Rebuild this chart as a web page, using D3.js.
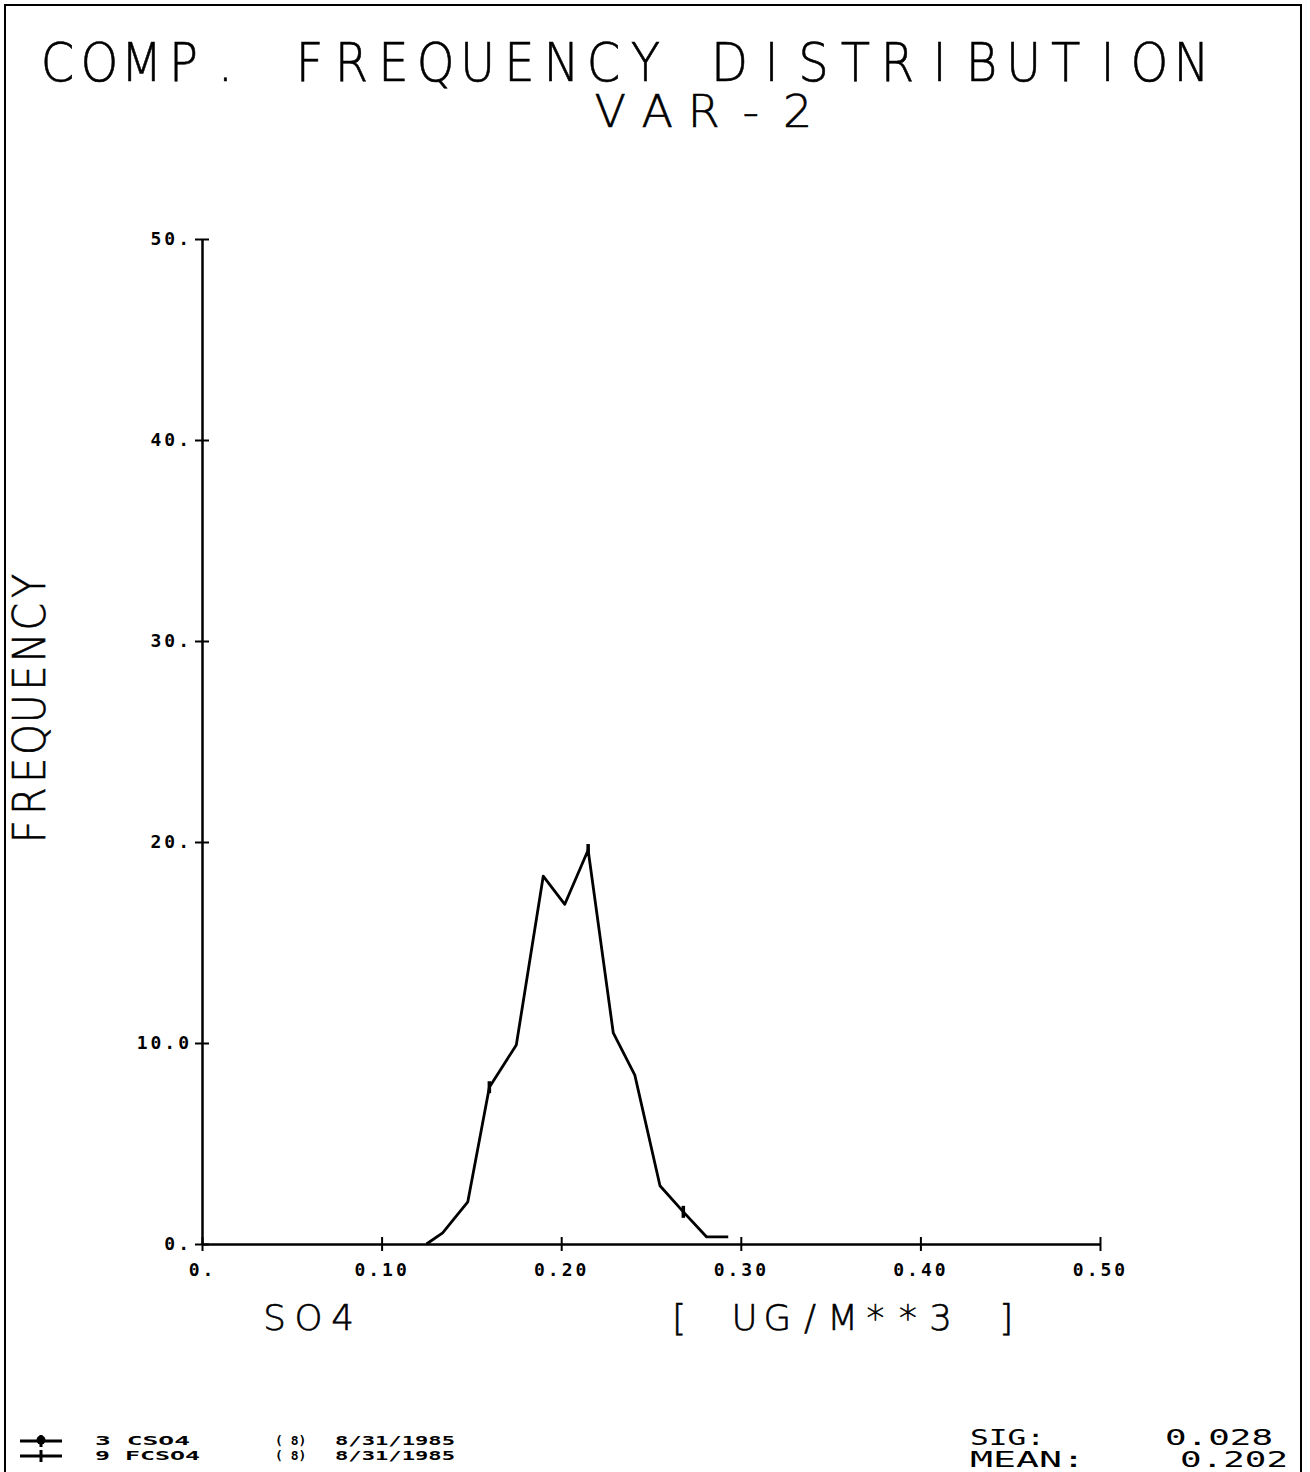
<!DOCTYPE html>
<html lang="en">
	<head>
		<meta charset="utf-8">
		<title>Comp. frequency distribution</title>
		<script type="text/javascript" src="https://d3js.org/d3.v7.min.js"></script>
		<style type="text/css">
			body { margin: 0; background: white; }
			text { font-family: "DejaVu Sans Mono", monospace; fill: black; }
			.thin { font-family: "DejaVu Sans", sans-serif; font-weight: 200; }
		</style>
	</head>
	<body>
		<script type="text/javascript">

			// SO4 concentration (bin centres) and frequency
			var conc = [0.125, 0.134, 0.148, 0.160, 0.175, 0.190, 0.202, 0.215, 0.229, 0.241, 0.255, 0.268, 0.281, 0.293];
			var freq = [0.0, 0.55, 2.1, 7.8, 9.9, 18.3, 16.9, 19.6, 10.5, 8.4, 2.9, 1.6, 0.35, 0.35];
			var markIdx = [3, 7, 11];

			var xTicks = [0, 0.1, 0.2, 0.3, 0.4, 0.5];
			var xTickLabels = ["0.", "0.10", "0.20", "0.30", "0.40", "0.50"];
			var yTicks = [0, 10, 20, 30, 40, 50];
			var yTickLabels = ["0.", "10.0", "20.", "30.", "40.", "50."];

			var legendNames = ["3 CSO4", "9 FCSO4"];
			var legendCounts = ["( 8)", "( 8)"];
			var legendDates = ["8/31/1985", "8/31/1985"];

			var w = 1310, h = 1472;

			var svg = d3.select("body")
						.append("svg")
						.attr("width", w)
						.attr("height", h);

			// page frame
			svg.append("path")
				.attr("d", "M5,1472 L5,5 L1301,5 L1301,1472")
				.attr("fill", "none")
				.attr("stroke", "black")
				.attr("stroke-width", 2);

			var x = d3.scaleLinear().domain([0, 0.5]).range([202, 1100]);
			var y = d3.scaleLinear().domain([0, 50]).range([1244, 239]);

			// axes
			var xAxis = d3.axisBottom(x)
						.tickValues(xTicks)
						.tickSize(7)
						.tickSizeOuter(0)
						.tickFormat(function(d, i){ return xTickLabels[i]; });
			var gx = svg.append("g")
						.attr("transform", "translate(0," + y(0) + ")")
						.call(xAxis);
			gx.selectAll(".tick line").attr("y1", -7).attr("y2", 7);
			gx.selectAll(".tick text")
				.attr("y", 19).attr("dy", "0.71em")
				.attr("font-size", 18).attr("font-weight", "bold")
				.attr("letter-spacing", 3)
				.attr("font-family", "DejaVu Sans Mono");

			var yAxis = d3.axisLeft(y)
						.tickValues(yTicks)
						.tickSize(7)
						.tickSizeOuter(0)
						.tickFormat(function(d, i){ return yTickLabels[i]; });
			var gy = svg.append("g")
						.attr("transform", "translate(" + x(0) + ",0)")
						.call(yAxis);
			gy.selectAll(".tick line").attr("x1", -7).attr("x2", 7);
			gy.selectAll(".tick text")
				.attr("x", -10)
				.attr("font-size", 18).attr("font-weight", "bold")
				.attr("letter-spacing", 3)
				.attr("font-family", "DejaVu Sans Mono");

			svg.selectAll(".domain").attr("stroke-width", 2.5);
			svg.selectAll(".tick line").attr("stroke-width", 2);

			// frequency polygon
			var line = d3.line()
						.x(function(d, i){ return x(conc[i]); })
						.y(function(d){ return y(d); });
			svg.append("path")
				.datum(freq)
				.attr("d", line)
				.attr("fill", "none")
				.attr("stroke", "black")
				.attr("stroke-width", 2.8)
				.attr("stroke-linejoin", "round");

			svg.selectAll("line.mark")
				.data(markIdx)
				.enter()
				.append("line")
				.attr("class", "mark")
				.attr("x1", function(d){ return x(conc[d]); })
				.attr("x2", function(d){ return x(conc[d]); })
				.attr("y1", function(d){ return y(freq[d]) - 6; })
				.attr("y2", function(d){ return y(freq[d]) + 6; })
				.attr("stroke", "black")
				.attr("stroke-width", 3.5);

			// plotter lettering: fixed pitch, each glyph centred in its cell
			function plotText(txt, ox, oy, pitch, cap, sx, rot) {
				var fs = cap / 0.73;
				var cell = pitch * 0.74;
				var xs = txt.split("").map(function(c, i){
					return ((i * pitch + cell / 2) / sx).toFixed(1);
				});
				svg.append("text")
					.attr("class", "thin")
					.attr("transform", "translate(" + ox + "," + oy + ")" + (rot ? " rotate(" + rot + ")" : "") + " scale(" + sx + ",1)")
					.attr("x", xs.join(" "))
					.attr("y", 0)
					.attr("text-anchor", "middle")
					.attr("font-size", fs)
					.attr("stroke", "black")
					.attr("stroke-width", 0.6)
					.text(txt);
			}

			plotText("COMP. FREQUENCY DISTRIBUTION", 42, 81, 42, 39, 0.9);
			plotText("VAR-2", 593, 127, 46.8, 32, 1.05);
			plotText("FREQUENCY", 45, 843, 30.7, 32, 0.9, -90);
			plotText("SO4", 262, 1330, 34, 26, 1.0);
			plotText("[ UG/M**3 ]", 667, 1330, 32.7, 26, 1.0);

			// statistics
			var statNames = ["SIG:", "MEAN:"];
			var statValues = ["0.028", "0.202"];
			var statY = [1445, 1467];
			var statNameW = [75, 115];
			var statValX = [1165, 1180];
			statNames.forEach(function(s, i){
				svg.append("text")
					.attr("x", 970).attr("y", statY[i])
					.attr("font-size", 22)
					.attr("font-family", "DejaVu Sans")
					.attr("textLength", statNameW[i])
					.attr("lengthAdjust", "spacingAndGlyphs")
					.text(s);
				svg.append("text")
					.attr("x", statValX[i]).attr("y", statY[i])
					.attr("font-size", 22)
					.attr("font-family", "DejaVu Sans")
					.attr("textLength", 108)
					.attr("lengthAdjust", "spacingAndGlyphs")
					.text(statValues[i]);
			});

			// legend
			var legCols = [95, 275, 335];
			var legW = [[95, 0, 120], [105, 0, 120]];
			legendNames.forEach(function(n, i){
				var ly = 1441 + i * 15;
				svg.append("line")
					.attr("x1", 20).attr("x2", 62)
					.attr("y1", ly).attr("y2", ly)
					.attr("stroke", "black").attr("stroke-width", 3);
				if (i == 0) {
					svg.append("circle").attr("cx", 41).attr("cy", ly - 1).attr("r", 4.5);
				}
				svg.append("line")
					.attr("x1", 41).attr("x2", 41)
					.attr("y1", ly - 6).attr("y2", ly + 6)
					.attr("stroke", "black").attr("stroke-width", 3);
				[n, legendCounts[i], legendDates[i]].forEach(function(t, j){
					var tx = svg.append("text")
						.attr("x", legCols[j]).attr("y", ly + 4)
						.attr("font-size", 13)
						.attr("font-weight", "bold")
						.text(t);
					if (legW[i][j] > 0) {
						tx.attr("textLength", legW[i][j]).attr("lengthAdjust", "spacingAndGlyphs");
					}
				});
			});

		</script>
	</body>
</html>
